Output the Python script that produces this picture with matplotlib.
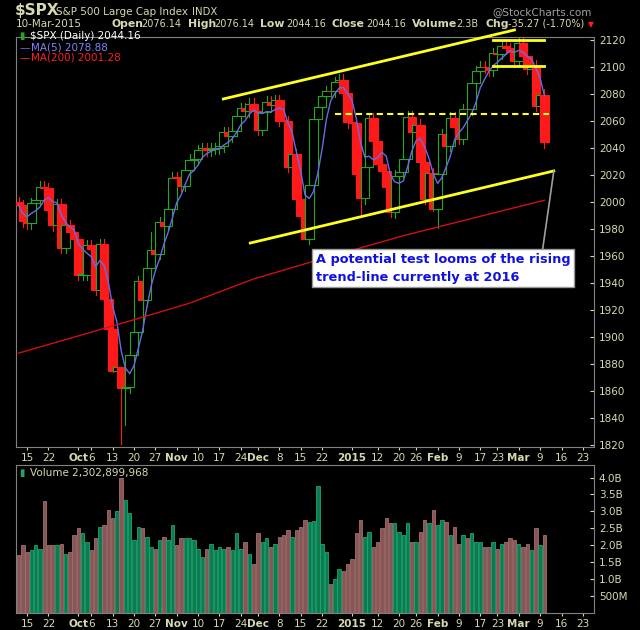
import numpy as np
import matplotlib
matplotlib.use("Agg")
import matplotlib.pyplot as plt
from matplotlib.patches import Rectangle

closes = [1997.45,1985.54,1984.13,1998.98,2001.57,2011.36,2010.40,1994.29,1982.77,1998.30,1965.99,1982.85,1977.80,1972.29,
 1946.16,1946.17,1967.90,1964.82,1935.10,1968.89,1928.21,1906.13,1874.74,1877.70,1862.49,1862.76,1886.76,1904.01,1941.28,1927.11,1950.82,1964.58,1961.63,1985.05,1982.30,1994.65,2018.05,
 2017.81,2012.10,2023.57,2031.21,2031.92,2038.26,2039.68,2038.25,2039.33,2039.82,2041.32,2051.80,2048.72,2052.75,2063.50,2069.41,2067.03,2072.83,2067.56,
 2053.44,2066.55,2074.33,2071.92,2075.37,2060.31,2059.82,2026.14,2035.33,2002.33,1989.63,1972.74,2012.89,2061.23,2070.65,2078.54,2082.17,2081.88,2088.77,2090.57,2080.35,2058.90,
 2058.20,2020.58,2002.61,2025.90,2062.14,2044.81,2028.26,2023.03,2011.27,1992.67,2019.42,2022.55,2032.12,2063.15,2051.82,2057.09,2029.55,2002.16,2021.25,1994.99,
 2020.85,2050.03,2041.51,2062.52,2055.47,2046.74,2068.59,2068.53,2088.48,2096.99,2100.34,2099.68,2097.45,2110.30,2109.66,2115.48,2113.86,2110.74,2104.50,
 2117.39,2107.78,2098.53,2101.04,2071.26,2079.43,2044.16]
first_open = 2000.0
low_override = {24: 1820.66, 23: 1874.0, 25: 1835.0, 22: 1874.0, 67: 1972.56, 66: 1989.0, 88: 1988.0, 97: 1993.0, 98: 1980.9, 80: 1990.0, 21: 1900.0}
high_override = {24: 1875.0, 25: 1876.0, 31: 1978.0, 68: 2016.0}
volume_b = [1.7,2.0,1.8,1.85,2.0,1.9,3.3,2.0,2.0,2.0,
 2.03,1.75,1.8,2.3,2.5,2.35,2.1,1.85,2.2,2.55,
 2.6,3.05,2.8,3.0,4.0,3.35,2.95,2.15,2.55,2.5,
 2.25,1.95,1.9,2.15,2.25,2.15,2.6,2.0,2.2,2.2,
 2.22,2.15,1.9,1.65,1.9,2.05,1.85,1.95,1.9,1.95,
 1.85,2.35,1.9,2.1,1.75,1.45,2.35,2.1,2.2,1.95,
 2.05,2.25,2.3,2.45,2.25,2.45,2.55,2.75,2.7,2.72,
 3.75,2.05,1.8,0.85,1.0,1.3,1.25,1.45,1.6,2.35,
 2.75,2.25,2.4,1.95,2.1,2.5,2.8,2.65,2.65,2.4,
 2.3,2.65,2.1,2.1,2.4,2.75,2.65,3.05,2.6,2.75,
 2.7,2.3,2.55,2.05,2.3,2.2,2.35,2.1,2.1,1.95,
 1.95,2.1,1.9,2.05,2.1,2.2,2.15,2.05,1.95,2.05,
 1.85,2.5,2.0,2.3]
ma200_idx = [0, 24, 40, 55, 70, 90, 110, 123]
ma200_val = [1888, 1910, 1925, 1943, 1957, 1975, 1991, 2001.28]
tick_idx = [2,7,14,17,22,27,32,37,42,47,52,56,61,66,71,78,84,89,93,98,103,108,112,117,122,127,132]
tick_lab = ["15","22","Oct","6","13","20","27","Nov","10","17","24","Dec","8","15","22","2015","12","20","26","Feb","9","17","23","Mar","9","16","23"]
bold_labels = {"Oct","Nov","Dec","2015","Feb","Mar"}

n = len(closes)
opens = [first_open] + closes[:-1]
x = np.arange(n)
ma5 = [np.mean(closes[max(0,i-4):i+1]) for i in range(n)]

TXT = "#d8d8b0"
fig = plt.figure(figsize=(6.4, 6.3), dpi=100, facecolor="black")
ax = fig.add_axes([16/640, 1-447/630, 578/640, 410/630], facecolor="black")
axv = fig.add_axes([16/640, 1-613/630, 578/640, 148/630], facecolor="black")
xl = (-0.6, 134.6)

for i in range(n):
    o, c = opens[i], closes[i]
    hi = high_override.get(i, max(o, c) + 4)
    lo = low_override.get(i, min(o, c) - 4)
    up = c >= o
    col = "#22a822" if up else "#ff1a1a"
    ax.plot([x[i], x[i]], [lo, hi], color=col, lw=0.8, zorder=2)
    bot, h = min(o, c), max(abs(c - o), 0.6)
    ax.add_patch(Rectangle((x[i]-1.0, bot), 2.0, h, facecolor=("black" if up else col), edgecolor=col, lw=0.8, zorder=3))
ax.plot(x, ma5, color="#6a6ae8", lw=1.0, zorder=4)
ax.plot(ma200_idx, ma200_val, color="#d01010", lw=1.0, zorder=4)

Y = "#ffff20"
ax.plot([47.9, 116], [2076.3, 2127.4], color=Y, lw=2, clip_on=False, zorder=5)
ax.plot([54.2, 125.2], [1969.6, 2023.0], color=Y, lw=2, zorder=5)
ax.plot([74, 124], [2065, 2065], color=Y, lw=1.5, ls=(0, (3, 2)), zorder=5)
ax.plot([111, 123], [2120, 2120], color=Y, lw=2, zorder=5)
ax.plot([111, 123], [2101, 2101], color=Y, lw=2, zorder=5)
ax.plot([125.2, 122.5], [2023, 1963], color="#a0a0a0", lw=1.2, zorder=6)
ax.text(69.5, 1951, "A potential test looms of the rising\ntrend-line currently at 2016", color="#1010e0",
        fontsize=9.3, fontweight="bold", va="center", ha="left", linespacing=1.5,
        bbox=dict(facecolor="white", edgecolor="#999999", boxstyle="square,pad=0.3"), zorder=7)

ax.set_xlim(*xl); ax.set_ylim(1818.5, 2122.2)
ax.yaxis.tick_right()
ax.set_yticks(np.arange(1820, 2121, 20))
ax.tick_params(axis="y", colors=TXT, labelsize=7.5, length=3, direction="in")
for a in (ax, axv):
    for s in a.spines.values():
        s.set_color("#808080")
    a.set_xticks(tick_idx)
    a.set_xticklabels(tick_lab)
    a.tick_params(axis="x", colors=TXT, labelsize=7.5, length=2, pad=2)
    for t in a.get_xticklabels():
        if t.get_text() in bold_labels:
            t.set_fontweight("bold")

vol_col = []
for i in range(n):
    prev = closes[i-1] if i > 0 else first_open
    vol_col.append("#0d7a52" if closes[i] >= prev else "#8a5555")
axv.bar(x, volume_b, width=0.8, color=vol_col, edgecolor=["#1aa870" if c == "#0d7a52" else "#a07070" for c in vol_col], lw=0.6)
axv.set_xlim(*xl); axv.set_ylim(0, 4.37)
axv.yaxis.tick_right()
axv.set_yticks([0.5, 1.0, 1.5, 2.0, 2.5, 3.0, 3.5, 4.0])
axv.set_yticklabels(["500M", "1.0B", "1.5B", "2.0B", "2.5B", "3.0B", "3.5B", "4.0B"])
axv.tick_params(axis="y", colors=TXT, labelsize=7.5, length=3, direction="in")

def ft(px, py, s, **kw):
    kw.setdefault("color", TXT)
    kw.setdefault("fontsize", 7.5)
    fig.text(px/640, 1-py/630, s, va="center", **kw)

ft(15, 11, "$SPX", fontsize=11, fontweight="bold")
ft(56, 12, "S&P 500 Large Cap Index", fontsize=7.5)
ft(192, 12, "INDX", fontsize=7.3)
ft(592, 12, "@StockCharts.com", fontsize=7.5, ha="right", color="#a0a0a0")
ft(16, 24, "10-Mar-2015")
for px, s, b in [(111,"Open",1),(141,"2076.14",0),(188,"High",1),(214,"2076.14",0),(260,"Low",1),(286,"2044.16",0),
                 (331,"Close",1),(366,"2044.16",0),(412,"Volume",1),(456,"2.3B",0),(486,"Chg",1),(508,"-35.27 (-1.70%)",0)]:
    ft(px, 24, s, fontweight=("bold" if b else "normal"), fontsize=(7.8 if b else 7.0))
ft(588, 25, "▼", color="#ff2020", fontsize=5.5)
ft(30, 36, "$SPX (Daily) 2044.16", color="white")
ft(19, 36, "▮", color="#22a822", fontsize=7)
ft(19, 48, "—", color="#6a6ae8")
ft(31, 48, "MA(5) 2078.88", color="#8080ff")
ft(19, 58, "—", color="#ff2020")
ft(31, 58, "MA(200) 2001.28", color="#ff2020")
ft(19, 473, "▮", color="#1aa870", fontsize=7)
ft(30, 473, "Volume 2,302,899,968", color=TXT)

fig.savefig("out.png", dpi=100, facecolor="black")
